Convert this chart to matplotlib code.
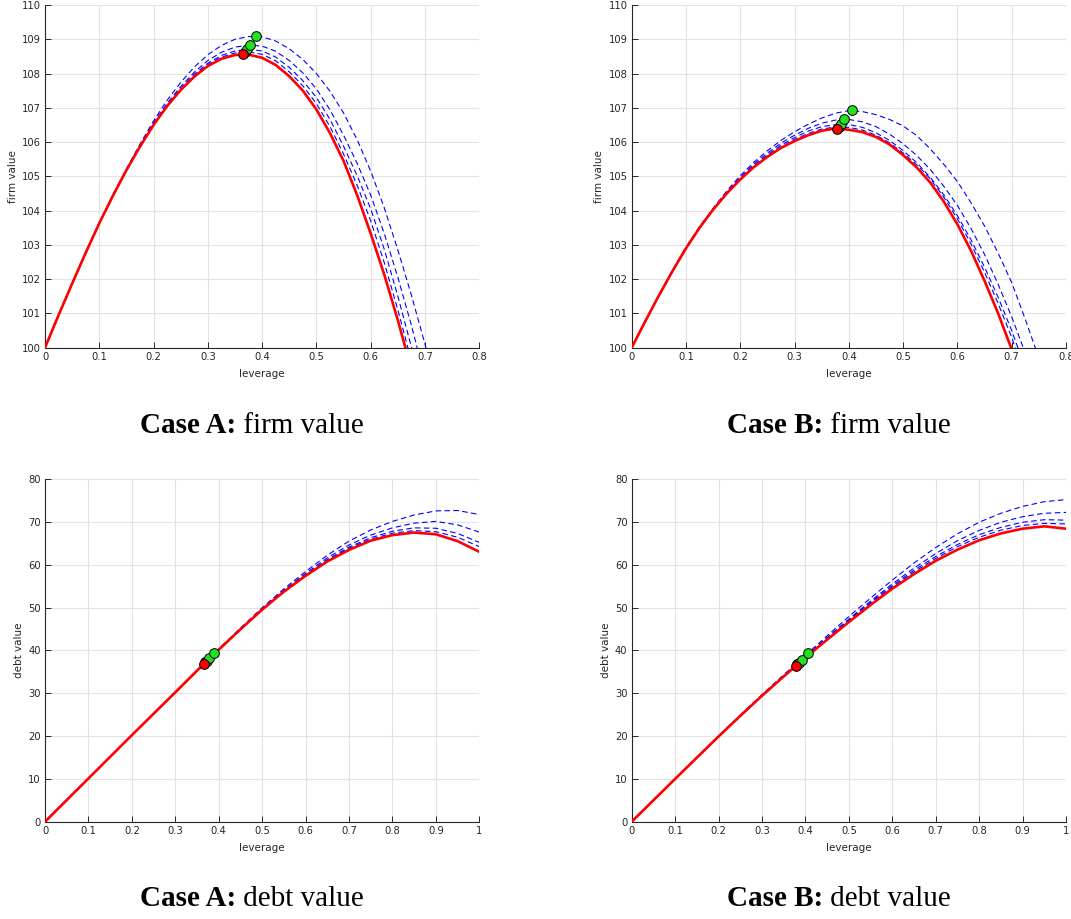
import matplotlib
matplotlib.use("Agg")
import matplotlib.pyplot as plt
from matplotlib.ticker import FuncFormatter

# leverage grids
lev_firm = [i * 0.025 for i in range(31)]          # 0 .. 0.75
lev_debt = [i * 0.05 for i in range(21)]           # 0 .. 1.0

# Case A - firm value
firmA_red = [100, 100.95, 101.87, 102.77, 103.63, 104.43, 105.18, 105.87, 106.5, 107.05, 107.52,
             107.91, 108.22, 108.43, 108.54, 108.55, 108.46, 108.25, 107.92, 107.5, 106.95,
             106.26, 105.45, 104.45, 103.33, 102.13, 100.8, 99.36, 97.8, 96.16, 94.4]
firmA_b1 = [100, 100.95, 101.87, 102.77, 103.63, 104.43, 105.18, 105.88, 106.51, 107.06, 107.54,
            107.94, 108.26, 108.48, 108.6, 108.63, 108.56, 108.37, 108.05, 107.64, 107.12,
            106.45, 105.65, 104.74, 103.7, 102.48, 101.1, 99.61, 98.0, 96.34, 94.6]
firmA_b2 = [100, 100.95, 101.87, 102.77, 103.63, 104.44, 105.19, 105.89, 106.53, 107.09, 107.57,
            107.98, 108.3, 108.53, 108.66, 108.705, 108.66, 108.48, 108.18, 107.79, 107.3,
            106.66, 105.88, 105.02, 104.05, 102.87, 101.5, 100.02, 98.4, 96.74, 95.0]
firmA_b3 = [100, 100.95, 101.87, 102.77, 103.64, 104.45, 105.2, 105.91, 106.56, 107.13, 107.62,
            108.04, 108.38, 108.62, 108.77, 108.83, 108.8, 108.65, 108.38, 108.02, 107.55,
            106.94, 106.2, 105.38, 104.45, 103.33, 102.05, 100.65, 99.1, 97.46, 95.7]
firmA_b4 = [100, 100.95, 101.87, 102.77, 103.64, 104.46, 105.22, 105.94, 106.62, 107.22, 107.74,
            108.19, 108.55, 108.82, 109.0, 109.08, 109.07, 108.95, 108.72, 108.41, 108.0,
            107.48, 106.85, 106.07, 105.15, 104.08, 102.85, 101.53, 100.1, 98.59, 97.0]

# Case B - firm value
firmB_red = [100, 100.77, 101.52, 102.23, 102.9, 103.5, 104.03, 104.5, 104.91, 105.27, 105.57,
             105.83, 106.03, 106.2, 106.33, 106.4, 106.36, 106.29, 106.15, 105.93, 105.62,
             105.26, 104.82, 104.26, 103.6, 102.83, 101.95, 101.0, 99.95, 98.8, 97.55]
firmB_b1 = [100, 100.77, 101.52, 102.23, 102.91, 103.5, 104.03, 104.51, 104.92, 105.29, 105.6,
            105.86, 106.08, 106.25, 106.38, 106.44, 106.43, 106.35, 106.2, 105.98, 105.68,
            105.34, 104.93, 104.39, 103.76, 103.03, 102.2, 101.29, 100.3, 99.15, 97.9]
firmB_b2 = [100, 100.78, 101.53, 102.24, 102.92, 103.51, 104.03, 104.52, 104.94, 105.32, 105.63,
            105.91, 106.13, 106.32, 106.45, 106.51, 106.51, 106.43, 106.27, 106.05, 105.75,
            105.4, 104.97, 104.46, 103.85, 103.15, 102.35, 101.47, 100.5, 99.4, 98.2]
firmB_b3 = [100, 100.78, 101.53, 102.25, 102.92, 103.52, 104.05, 104.54, 104.97, 105.36, 105.68,
            105.97, 106.2, 106.4, 106.55, 106.64, 106.66, 106.59, 106.45, 106.23, 105.95,
            105.61, 105.2, 104.71, 104.15, 103.48, 102.72, 101.85, 100.9, 99.84, 98.7]
firmB_b4 = [100, 100.78, 101.53, 102.26, 102.93, 103.53, 104.07, 104.57, 105.02, 105.41, 105.75,
            106.05, 106.3, 106.52, 106.7, 106.84, 106.92, 106.89, 106.8, 106.66, 106.47,
            106.19, 105.8, 105.35, 104.85, 104.23, 103.55, 102.76, 101.9, 100.83, 99.7]

# Case A - debt value
debtA_red = [0, 5.05, 10.1, 15.15, 20.2, 25.2, 30.2, 35.25, 40.15, 44.9, 49.5,
             53.7, 57.4, 60.75, 63.45, 65.6, 66.9, 67.5, 67.1, 65.5, 63.0]
debtA_b1 = [0, 5.05, 10.1, 15.15, 20.2, 25.2, 30.2, 35.27, 40.2, 45.0, 49.6,
            53.85, 57.55, 61.0, 63.85, 65.95, 67.35, 67.95, 67.7, 66.4, 64.2]
debtA_b2 = [0, 5.05, 10.1, 15.15, 20.2, 25.2, 30.2, 35.28, 40.22, 45.05, 49.68,
            53.95, 57.7, 61.2, 64.1, 66.3, 67.8, 68.6, 68.5, 67.3, 65.2]
debtA_b3 = [0, 5.05, 10.1, 15.15, 20.2, 25.2, 30.2, 35.29, 40.25, 45.1, 49.75,
            54.05, 57.95, 61.6, 64.6, 66.9, 68.6, 69.7, 70.1, 69.3, 67.6]
debtA_b4 = [0, 5.05, 10.1, 15.15, 20.2, 25.2, 30.22, 35.3, 40.3, 45.2, 49.95,
            54.35, 58.4, 62.2, 65.5, 68.1, 70.1, 71.6, 72.55, 72.65, 71.7]

# Case B - debt value
debtB_red = [0, 5.0, 10.0, 14.95, 19.9, 24.7, 29.4, 33.9, 38.3, 42.5, 46.6,
             50.6, 54.4, 57.8, 60.9, 63.5, 65.7, 67.3, 68.4, 68.95, 68.4]
debtB_b1 = [0, 5.0, 10.0, 14.95, 19.92, 24.73, 29.45, 33.97, 38.4, 42.7, 46.9,
            50.95, 54.8, 58.3, 61.45, 64.2, 66.4, 68.05, 69.15, 69.65, 69.5]
debtB_b2 = [0, 5.0, 10.0, 14.96, 19.93, 24.76, 29.5, 34.03, 38.5, 42.85, 47.1,
            51.2, 55.1, 58.7, 61.9, 64.7, 67.0, 68.7, 69.9, 70.5, 70.4]
debtB_b3 = [0, 5.0, 10.0, 14.97, 19.95, 24.8, 29.56, 34.1, 38.6, 43.0, 47.3,
            51.5, 55.5, 59.2, 62.6, 65.6, 68.0, 69.9, 71.2, 72.0, 72.2]
debtB_b4 = [0, 5.0, 10.0, 14.98, 19.98, 24.88, 29.68, 34.3, 38.85, 43.4, 47.9,
            52.2, 56.4, 60.4, 64.0, 67.2, 69.9, 72.0, 73.6, 74.7, 75.2]

# optimal leverage points (green = dashed curves, red = solid curve)
optA_lev = [0.368, 0.372, 0.378, 0.388]
optA_firm = [108.63, 108.71, 108.83, 109.09]
optA_debt = [37.2, 37.6, 38.2, 39.3]
redA_lev, redA_firm, redA_debt = 0.365, 108.56, 36.9

optB_lev = [0.381, 0.385, 0.391, 0.405]
optB_firm = [106.45, 106.53, 106.67, 106.94]
optB_debt = [36.7, 37.1, 37.7, 39.3]
redB_lev, redB_firm, redB_debt = 0.378, 106.38, 36.3

firm_xticks = [0, 0.1, 0.2, 0.3, 0.4, 0.5, 0.6, 0.7, 0.8]
firm_yticks = [100, 101, 102, 103, 104, 105, 106, 107, 108, 109, 110]
debt_xticks = [0, 0.1, 0.2, 0.3, 0.4, 0.5, 0.6, 0.7, 0.8, 0.9, 1.0]
debt_yticks = [0, 10, 20, 30, 40, 50, 60, 70, 80]

captions = [("Case A:", " firm value"), ("Case B:", " firm value"),
            ("Case A:", " debt value"), ("Case B:", " debt value")]

W, H = 1071, 919
fig = plt.figure(figsize=(W / 100, H / 100), dpi=100)
fig.patch.set_facecolor("white")

axc = "#262626"
fmt = FuncFormatter(lambda v, p: "%g" % round(v, 3))


def panel(px_left, px_top, lev, red, dashed, opt_lev, opt_val, r_lev, r_val,
          xticks, yticks, ylabel):
    ax = fig.add_axes([px_left / W, 1 - (px_top + 342.7) / H, 434.3 / W, 342.7 / H])
    for ys in dashed:
        ax.plot(lev, ys, color="blue", ls=(0, (5, 3)), lw=0.8, zorder=2)
    ax.plot(lev, red, color="red", lw=1.9, zorder=3)
    ax.plot(opt_lev, opt_val, "o", ms=7, mfc="#22e022", mec="black", mew=0.7, zorder=4)
    ax.plot([r_lev], [r_val], "o", ms=7, mfc="red", mec="black", mew=0.7, zorder=5)
    ax.set_xlim(xticks[0], xticks[-1])
    ax.set_ylim(yticks[0], yticks[-1])
    ax.set_xticks(xticks)
    ax.set_yticks(yticks)
    ax.xaxis.set_major_formatter(fmt)
    ax.yaxis.set_major_formatter(fmt)
    ax.grid(True, color="#e3e3e3", lw=0.8)
    ax.set_axisbelow(True)
    for s in ["top", "right"]:
        ax.spines[s].set_visible(False)
    for s in ["left", "bottom"]:
        ax.spines[s].set_color(axc)
        ax.spines[s].set_linewidth(0.8)
    ax.tick_params(direction="in", length=4, width=0.7, colors=axc, labelsize=7.2, pad=3)
    ax.set_xlabel("leverage", fontsize=7.5, color=axc, labelpad=5)
    ax.set_ylabel(ylabel, fontsize=7.5, color=axc, labelpad=3)
    return ax


panel(45, 5, lev_firm, firmA_red, [firmA_b1, firmA_b2, firmA_b3, firmA_b4],
      optA_lev, optA_firm, redA_lev, redA_firm, firm_xticks, firm_yticks, "firm value")
panel(631.7, 5, lev_firm, firmB_red, [firmB_b1, firmB_b2, firmB_b3, firmB_b4],
      optB_lev, optB_firm, redB_lev, redB_firm, firm_xticks, firm_yticks, "firm value")
panel(45, 479, lev_debt, debtA_red, [debtA_b1, debtA_b2, debtA_b3, debtA_b4],
      optA_lev, optA_debt, redA_lev, redA_debt, debt_xticks, debt_yticks, "debt value")
panel(631.7, 479, lev_debt, debtB_red, [debtB_b1, debtB_b2, debtB_b3, debtB_b4],
      optB_lev, optB_debt, redB_lev, redB_debt, debt_xticks, debt_yticks, "debt value")

# captions: bold part + regular part, centred together
cap_pos = [(252, 426), (839, 426), (252, 899), (839, 899)]
renderer = fig.canvas.get_renderer()
for (bold, rest), (cx, cy) in zip(captions, cap_pos):
    tb = fig.text(0, 1 - cy / H, bold, family="Liberation Serif", weight="bold",
                  fontsize=21, ha="left", va="center")
    tr = fig.text(0, 1 - cy / H, rest, family="Liberation Serif",
                  fontsize=21, ha="left", va="center")
    wb = tb.get_window_extent(renderer).width
    wr = tr.get_window_extent(renderer).width
    x0 = cx - (wb + wr) / 2
    tb.set_x(x0 / W)
    tr.set_x((x0 + wb) / W)

fig.savefig("out.png", dpi=100, facecolor="white")
